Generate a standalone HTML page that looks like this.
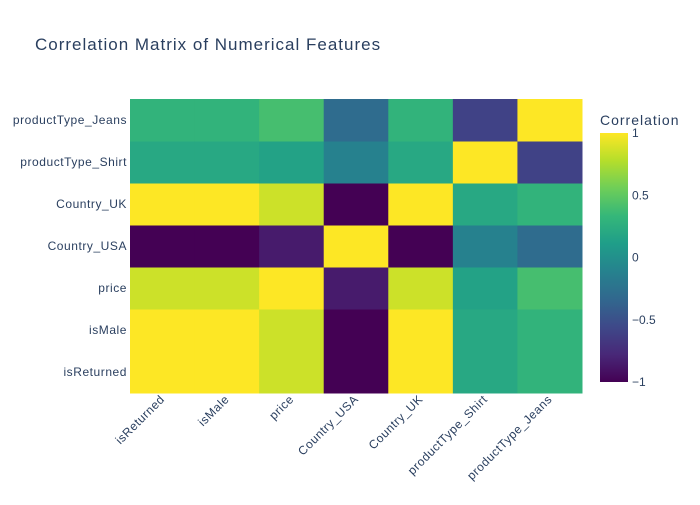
<!DOCTYPE html>
<html><head><meta charset="utf-8"><style>
body{margin:0;background:#fff;font-family:"Liberation Sans",Arial,sans-serif;}
svg text{font-family:"Liberation Sans",Arial,sans-serif;fill:#2a3f5f;}
.lbl{letter-spacing:0.55px;}
</style></head><body>
<svg id="chart" width="700" height="500">
<defs><linearGradient id="vg" x1="0" y1="1" x2="0" y2="0">
<stop offset="0" stop-color="#440154"/><stop offset="0.111" stop-color="#482878"/><stop offset="0.222" stop-color="#3e4989"/><stop offset="0.333" stop-color="#31688e"/><stop offset="0.444" stop-color="#26828e"/><stop offset="0.556" stop-color="#1f9e89"/><stop offset="0.667" stop-color="#35b779"/><stop offset="0.778" stop-color="#6ece58"/><stop offset="0.889" stop-color="#b5de2b"/><stop offset="1" stop-color="#fde725"/>
</linearGradient></defs>
<text x="35" y="50" font-size="17" letter-spacing="1">Correlation Matrix of Numerical Features</text>
<g id="cells"></g><g id="xl"></g><g id="yl"></g>
<rect x="600" y="133" width="28" height="249" fill="url(#vg)"/>
<text x="600" y="125" font-size="14" letter-spacing="1">Correlation</text>
<g id="cb"></g>
</svg>
<script>
const labels=["isReturned","isMale","price","Country_USA","Country_UK","productType_Shirt","productType_Jeans"];
const rowIsReturned=[1,1,0.85,-1,1,0.2,0.3];
const rowIsMale=[1,1,0.85,-1,1,0.2,0.3];
const rowPrice=[0.85,0.85,1,-0.85,0.85,0.15,0.4];
const rowUSA=[-1,-1,-0.85,1,-1,-0.12,-0.3];
const rowUK=[1,1,0.85,-1,1,0.2,0.3];
const rowShirt=[0.2,0.2,0.15,-0.12,0.2,1,-0.6];
const rowJeans=[0.3,0.3,0.4,-0.3,0.3,-0.6,1];
const matrix=[rowIsReturned,rowIsMale,rowPrice,rowUSA,rowUK,rowShirt,rowJeans];
const cbTicks=[1,0.5,0,-0.5,-1];
const stops=["#440154","#482878","#3e4989","#31688e","#26828e","#1f9e89","#35b779","#6ece58","#b5de2b","#fde725"];
function hex(h){return [1,3,5].map(i=>parseInt(h.substr(i,2),16));}
function color(v){let t=(v+1)/2;t=Math.max(0,Math.min(1,t));const p=t*9,i=Math.min(8,Math.floor(p)),f=p-i;const a=hex(stops[i]),b=hex(stops[i+1]);return `rgb(${a.map((c,k)=>Math.round(c+(b[k]-c)*f)).join(",")})`;}
const X0=130,X1=582,Y0=99,Y1=393,n=labels.length,cw=(X1-X0)/n,ch=(Y1-Y0)/n;
const xS=i=>X0+i*cw, yS=j=>Y1-(j+1)*ch;
const NS="http://www.w3.org/2000/svg";
const cells=document.getElementById("cells"),xl=document.getElementById("xl"),yl=document.getElementById("yl"),cb=document.getElementById("cb");
matrix.forEach((row,j)=>row.forEach((v,i)=>{
 const r=document.createElementNS(NS,"rect");
 r.setAttribute("x",xS(i));r.setAttribute("y",yS(j));r.setAttribute("width",cw+0.5);r.setAttribute("height",ch+0.5);r.setAttribute("fill",color(v));
 
 
 cells.appendChild(r);
}));
labels.forEach((l,i)=>{
 const t=document.createElementNS(NS,"text");
 const x=xS(i)+cw/2+3,y=Y1+7;
 t.setAttribute("transform",`translate(${x},${y}) rotate(-45)`);t.setAttribute("text-anchor","end");t.setAttribute("font-size","12");t.setAttribute("class","lbl");t.textContent=l;
 
 
 xl.appendChild(t);
 const u=document.createElementNS(NS,"text");
 u.setAttribute("x",X0-3);u.setAttribute("y",yS(i)+ch/2+4);u.setAttribute("text-anchor","end");u.setAttribute("font-size","12");u.setAttribute("class","lbl");u.textContent=l;
 
 
 yl.appendChild(u);
});
cbTicks.forEach(v=>{
 const t=document.createElementNS(NS,"text");
 const y=382-(v+1)/2*249;
 t.setAttribute("x",632);t.setAttribute("y",y+4);t.setAttribute("font-size","12");t.textContent=v<0?"\u2212"+Math.abs(v):String(v);
 
 
 cb.appendChild(t);
});
</script>
</body></html>
